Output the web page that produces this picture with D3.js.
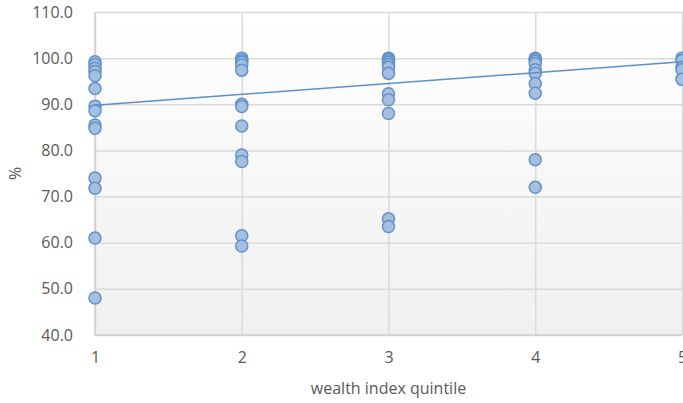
<!DOCTYPE html>
<html>
<head>
<meta charset="utf-8">
<script src="https://cdn.jsdelivr.net/npm/d3@7"></script>
<style>
  body { margin: 0; background: #fff; }
  text { font-family: "Open Sans", sans-serif; fill: #595959; }
</style>
</head>
<body>
<div id="chart"></div>
<script>
// values, grouped by wealth index quintile
const q1 = [99.2, 98.6, 97.8, 97.1, 96.2, 93.4, 89.6, 88.6, 85.5, 84.8, 74.0, 71.8, 61.0, 48.0];
const q2 = [100.0, 99.5, 99.1, 98.5, 97.4, 90.0, 89.5, 85.3, 79.0, 77.6, 61.5, 59.3];
const q3 = [100.0, 99.8, 99.5, 99.1, 98.6, 98.0, 96.7, 92.3, 91.0, 88.0, 65.2, 63.5];
const q4 = [100.0, 99.7, 99.3, 98.8, 97.5, 96.7, 94.5, 92.4, 78.0, 72.0];
const q5 = [100.0, 99.5, 98.0, 97.5, 95.4];
const quintiles = [1, 2, 3, 4, 5];
const trendX = [1, 5];
const trendY = [89.8, 99.2];
const yTicks = [40, 50, 60, 70, 80, 90, 100, 110];

const groups = [q1, q2, q3, q4, q5];
const points = [];
groups.forEach((vals, i) => vals.forEach(v => points.push({q: quintiles[i], v: v})));

const width = 683, height = 403;
const margin = {top: 12, right: 1, bottom: 68, left: 95};
const innerWidth = width - margin.left - margin.right;
const innerHeight = height - margin.top - margin.bottom;

const svg = d3.select("#chart").append("svg")
    .attr("width", width)
    .attr("height", height);

const defs = svg.append("defs");
const grad = defs.append("linearGradient")
    .attr("id", "bg").attr("x1", 0).attr("y1", 0).attr("x2", 0).attr("y2", 1);
grad.append("stop").attr("offset", "0%").attr("stop-color", "#ffffff");
grad.append("stop").attr("offset", "100%").attr("stop-color", "#f0f0f0");

const g = svg.append("g")
    .attr("transform", `translate(${margin.left},${margin.top})`);

const x = d3.scaleLinear().domain([1, 5]).range([0, innerWidth]);
const y = d3.scaleLinear().domain([40, 110]).range([innerHeight, 0]);

g.append("rect")
    .attr("width", innerWidth)
    .attr("height", innerHeight)
    .attr("fill", "url(#bg)");

// gridlines
g.append("g")
    .call(d3.axisLeft(y).tickValues(yTicks).tickSize(-innerWidth).tickFormat(""))
    .call(s => s.select(".domain").remove())
    .call(s => s.selectAll("text").remove())
    .call(s => s.selectAll("line").attr("stroke", "#dadada").attr("stroke-width", 1.5));

g.append("g")
    .attr("transform", `translate(0,${innerHeight})`)
    .call(d3.axisBottom(x).tickValues(quintiles).tickSize(-innerHeight).tickFormat(""))
    .call(s => s.select(".domain").remove())
    .call(s => s.selectAll("text").remove())
    .call(s => s.selectAll("line").attr("stroke", "#dadada").attr("stroke-width", 1.5));

// axis lines
g.append("line")
    .attr("x1", 0).attr("x2", 0).attr("y1", 0).attr("y2", innerHeight)
    .attr("stroke", "#cfcfcf").attr("stroke-width", 1.5);
g.append("line")
    .attr("x1", 0).attr("x2", innerWidth).attr("y1", innerHeight).attr("y2", innerHeight)
    .attr("stroke", "#cfcfcf").attr("stroke-width", 1.5);

// tick labels
g.append("g")
    .call(d3.axisLeft(y).tickValues(yTicks).tickSize(0).tickPadding(22).tickFormat(d3.format(".1f")))
    .call(s => s.select(".domain").remove())
    .call(s => s.selectAll("text").style("font-size", "16px").attr("fill", "#595959"));

g.append("g")
    .attr("transform", `translate(0,${innerHeight})`)
    .call(d3.axisBottom(x).tickValues(quintiles).tickSize(0).tickPadding(17).tickFormat(d3.format("d")))
    .call(s => s.select(".domain").remove())
    .call(s => s.selectAll("text").style("font-size", "16px").attr("fill", "#595959"));

// points
g.selectAll(".pt")
    .data(points)
    .join("circle")
    .attr("class", "pt")
    .attr("cx", d => x(d.q))
    .attr("cy", d => y(d.v))
    .attr("r", 6)
    .attr("fill", "#a6bfe0")
    .attr("stroke", "#6192cc")
    .attr("stroke-width", 1.5);

// trend line
const trend = trendX.map((d, i) => ({q: d, v: trendY[i]}));
g.append("path")
    .datum(trend)
    .attr("d", d3.line().x(d => x(d.q)).y(d => y(d.v)))
    .attr("fill", "none")
    .attr("stroke", "#5b8fcb")
    .attr("stroke-width", 1.5);

// axis titles
svg.append("text")
    .attr("x", margin.left + x(3))
    .attr("y", 394)
    .attr("text-anchor", "middle")
    .style("font-size", "16px")
    .text("wealth index quintile");

svg.append("text")
    .attr("transform", `translate(21,${margin.top + innerHeight / 2}) rotate(-90)`)
    .attr("text-anchor", "middle")
    .style("font-size", "16px")
    .text("%");
</script>
</body>
</html>
